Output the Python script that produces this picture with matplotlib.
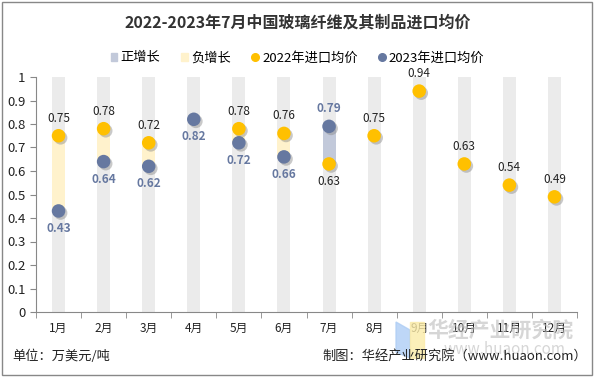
import numpy as np
import matplotlib
matplotlib.use("Agg")
import matplotlib.pyplot as plt
import matplotlib.patheffects as pe
from matplotlib.lines import Line2D
from matplotlib.patches import Patch, Rectangle, Polygon

plt.rcParams['font.family'] = ['Noto Sans CJK SC', 'DejaVu Sans']

months = ["1月", "2月", "3月", "4月", "5月", "6月", "7月", "8月", "9月", "10月", "11月", "12月"]
price_2022 = [0.75, 0.78, 0.72, None, 0.78, 0.76, 0.63, 0.75, 0.94, 0.63, 0.54, 0.49]
price_2023 = [0.43, 0.64, 0.62, 0.82, 0.72, 0.66, 0.79, None, None, None, None, None]

c22 = "#FFC000"
c23 = "#6678A0"
c_pos = "#C2C9DA"
c_neg = "#FFF2CC"
c_bg = "#EBEBEB"

fig = plt.figure(figsize=(5.95, 3.77), dpi=100)
ax = fig.add_axes([36 / 595, 65 / 377, 541 / 595, 235 / 377])

x = np.arange(len(months))
w = 0.29
ax.bar(x, [1] * len(months), width=w, color=c_bg, zorder=1)

shadow = [pe.SimplePatchShadow(offset=(1.5, -1.5), shadow_rgbFace="#888888", alpha=0.45), pe.Normal()]

# 增长区间
for i in range(len(months)):
    a, b = price_2022[i], price_2023[i]
    if a is not None and b is not None:
        col = c_pos if b > a else c_neg
        ax.bar(i, abs(b - a), bottom=min(a, b), width=w, color=col, zorder=2)

xs22 = [i for i, v in enumerate(price_2022) if v is not None]
ys22 = [v for v in price_2022 if v is not None]
xs23 = [i for i, v in enumerate(price_2023) if v is not None]
ys23 = [v for v in price_2023 if v is not None]
ax.scatter(xs22, ys22, s=95, color=c22, zorder=4, path_effects=shadow, linewidths=0)
ax.scatter(xs23, ys23, s=95, color=c23, zorder=4, path_effects=shadow, linewidths=0)

for i in range(len(months)):
    a, b = price_2022[i], price_2023[i]
    a_above = b is None or a is None or a >= b
    if a is not None:
        off = 8 if a_above else -8
        ax.annotate(f"{a:.2f}", (i, a), xytext=(0, off), textcoords="offset points",
                    ha="center", va="bottom" if a_above else "top", fontsize=8.5, color="#222222", zorder=5)
    if b is not None:
        up = a is not None and b > a
        off = 8 if up else -8
        ax.annotate(f"{b:.2f}", (i, b), xytext=(0, off), textcoords="offset points",
                    ha="center", va="bottom" if up else "top", fontsize=8.5, color=c23,
                    fontweight="bold", zorder=5)

ax.set_xlim(-0.5, len(months) - 0.5)
ax.set_ylim(0, 1)
ax.set_yticks(np.arange(0, 1.01, 0.1))
ax.set_yticklabels(["0", "0.1", "0.2", "0.3", "0.4", "0.5", "0.6", "0.7", "0.8", "0.9", "1"])
ax.set_xticks(x)
ax.set_xticklabels(months)
ax.set_xticks(np.arange(-0.5, len(months), 1), minor=True)
ax.tick_params(axis="x", which="major", length=0, pad=7, labelsize=8.5, colors="#222222")
ax.tick_params(axis="x", which="minor", length=4, color="#888888")
ax.tick_params(axis="y", length=4, color="#888888", labelsize=9.5, colors="#222222")
for s in ["top", "right"]:
    ax.spines[s].set_visible(False)
for s in ["left", "bottom"]:
    ax.spines[s].set_color("#888888")

fig.text(0.5, 1 - 23 / 377, "2022-2023年7月中国玻璃纤维及其制品进口均价", ha="center", va="center",
         fontsize=11.5, fontweight="bold", color="#333333")

handles = [
    Patch(color=c_pos, label="正增长"),
    Patch(color=c_neg, label="负增长"),
    Line2D([], [], marker="o", linestyle="", color=c22, markersize=5.5, label="2022年进口均价"),
    Line2D([], [], marker="o", linestyle="", color=c23, markersize=5.5, label="2023年进口均价"),
]
fig.legend(handles=handles, loc="center", bbox_to_anchor=(0.5, 1 - 58 / 377), ncol=4, frameon=False,
           fontsize=9.5, handlelength=0.5, handleheight=0.5, handletextpad=0.25, columnspacing=1.6)

# 水印
fig.patches.append(Polygon([[396 / 595, 1 - 322 / 377], [410 / 595, 1 - 330 / 377],
                            [410 / 595, 1 - 358 / 377], [396 / 595, 1 - 352 / 377]],
                           closed=True, transform=fig.transFigure, color="#AECDF5", alpha=0.8))
fig.patches.append(Polygon([[410 / 595, 1 - 322 / 377], [424 / 595, 1 - 322 / 377],
                            [424 / 595, 1 - 358 / 377], [410 / 595, 1 - 358 / 377]],
                           closed=True, transform=fig.transFigure, color="#FBEBA8", alpha=0.8))
fig.text(500 / 595, 1 - 330 / 377, "华经产业研究院", ha="center", va="center", fontsize=15,
         fontweight="bold", color="#BBBBBB", alpha=0.6)
fig.text(505 / 595, 1 - 350 / 377, "www.huaon.com", ha="center", va="center", fontsize=11,
         color="#BBBBBB", alpha=0.6)

fig.text(12 / 595, 1 - 356 / 377, "单位：万美元/吨", ha="left", va="center", fontsize=9.5, color="#222222")
fig.text(587 / 595, 1 - 356 / 377, "制图：华经产业研究院（www.huaon.com）", ha="right", va="center",
         fontsize=9.5, color="#222222")

fig.patches.append(Rectangle((2 / 595, 2 / 377), 590 / 595, 373 / 377, transform=fig.transFigure,
                             fill=False, edgecolor="#888888", linewidth=1))

fig.savefig("out.png", dpi=100)
